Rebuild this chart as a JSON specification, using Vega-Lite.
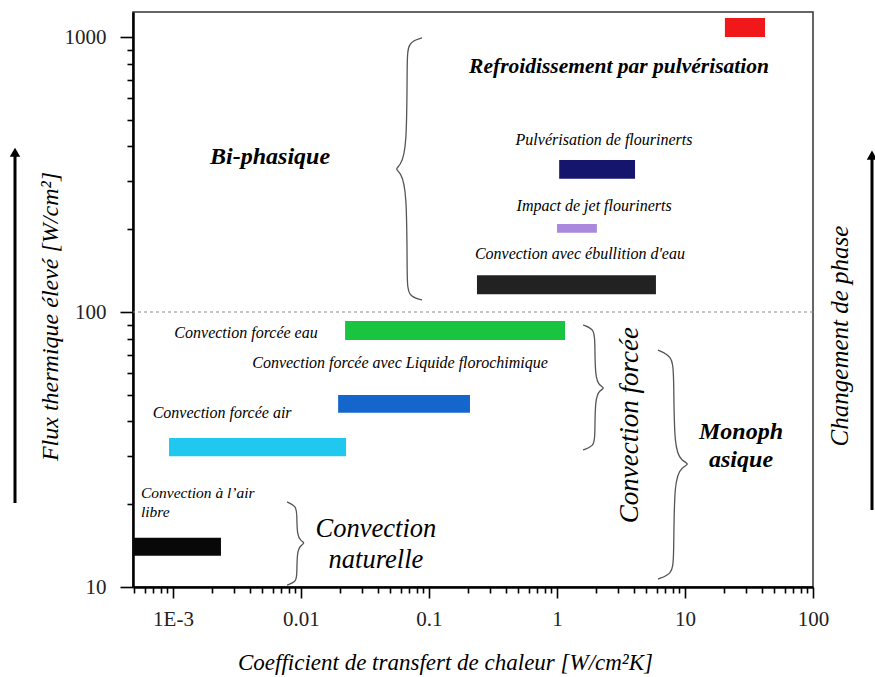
{
  "$schema": "https://vega.github.io/schema/vega-lite/v6.json",
  "width": 680,
  "height": 575,
  "autosize": {"type": "none"},
  "padding": {"left": 133, "top": 12, "right": 62, "bottom": 90},
  "background": "white",
  "config": {
    "view": {"stroke": "#333333", "strokeWidth": 1.5}
  },
  "layer": [
    {
      "data": {"values": [
        {"name": "Refroidissement par pulvérisation", "x1": 20.5, "x2": 42.2, "y1": 1000, "y2": 1173},
        {"name": "Pulvérisation de flourinerts", "x1": 1.04, "x2": 4.07, "y1": 305, "y2": 357},
        {"name": "Impact de jet flourinerts", "x1": 1.0, "x2": 2.05, "y1": 194, "y2": 209},
        {"name": "Convection avec ébullition d'eau", "x1": 0.237, "x2": 5.93, "y1": 116, "y2": 136},
        {"name": "Convection forcée eau", "x1": 0.0221, "x2": 1.155, "y1": 79.1, "y2": 92.7},
        {"name": "Convection forcée avec Liquide florochimique", "x1": 0.0195, "x2": 0.209, "y1": 43.0, "y2": 49.9},
        {"name": "Convection forcée air", "x1": 0.000931, "x2": 0.0225, "y1": 29.9, "y2": 34.8},
        {"name": "Convection à l'air libre", "x1": 0.000487, "x2": 0.00237, "y1": 13.0, "y2": 15.1}
      ]},
      "mark": {"type": "rect"},
      "encoding": {
        "x": {"field": "x1", "type": "quantitative",
          "scale": {"type": "log", "domain": [0.000487, 100], "nice": false, "zero": false},
          "axis": {
            "title": "Coefficient de transfert de chaleur [W/cm²K]",
            "titleFont": "Liberation Serif", "titleFontStyle": "italic", "titleFontWeight": "normal", "titleFontSize": 23, "titleColor": "black", "titlePadding": 22, "titleX": 312,
            "values": [0.0005,0.0006,0.0007,0.0008,0.0009,0.001,0.002,0.003,0.004,0.005,0.006,0.007,0.008,0.009,0.01,0.02,0.03,0.04,0.05,0.06,0.07,0.08,0.09,0.1,0.2,0.3,0.4,0.5,0.6,0.7,0.8,0.9,1,2,3,4,5,6,7,8,9,10,20,30,40,50,60,70,80,90,100],
            "labelExpr": "datum.value == 0.001 ? '1E-3' : datum.value == 0.01 ? '0.01' : datum.value == 0.1 ? '0.1' : datum.value == 1 ? '1' : datum.value == 10 ? '10' : datum.value == 100 ? '100' : ''",
            "labelFont": "Liberation Serif", "labelFontSize": 21, "labelColor": "#222222", "labelPadding": 10, "labelOverlap": false, "labelBound": false, "labelFlush": false,
            "tickSize": {"condition": {"test": "indexof([0.001,0.01,0.1,1,10,100], datum.value) >= 0", "value": 11}, "value": 6},
            "tickColor": "black", "tickWidth": 1.6,
            "domainColor": "black", "domainWidth": 2.5, "grid": false
          }
        },
        "x2": {"field": "x2"},
        "y": {"field": "y1", "type": "quantitative",
          "scale": {"type": "log", "domain": [10, 1233], "nice": false, "zero": false},
          "axis": {
            "title": "Flux thermique élevé [W/cm²]",
            "titleFont": "Liberation Serif", "titleFontStyle": "italic", "titleFontWeight": "normal", "titleFontSize": 24, "titleColor": "black", "titlePadding": 2, "titleY": 304,
            "values": [10,20,30,40,50,60,70,80,90,100,200,300,400,500,600,700,800,900,1000],
            "labelExpr": "datum.value == 10 ? '10' : datum.value == 100 ? '100' : datum.value == 1000 ? '1000' : ''",
            "labelFont": "Liberation Serif", "labelFontSize": 21, "labelColor": "#222222", "labelPadding": 14, "labelOverlap": false, "labelBound": false, "labelFlush": false,
            "tickSize": {"condition": {"test": "indexof([10,100,1000], datum.value) >= 0", "value": 13}, "value": 6},
            "tickColor": "black", "tickWidth": 1.6,
            "domainColor": "black", "domainWidth": 2.5, "grid": false
          }
        },
        "y2": {"field": "y2"},
        "color": {"field": "name", "type": "nominal", "legend": null,
          "scale": {
            "domain": ["Refroidissement par pulvérisation", "Pulvérisation de flourinerts", "Impact de jet flourinerts", "Convection avec ébullition d'eau", "Convection forcée eau", "Convection forcée avec Liquide florochimique", "Convection forcée air", "Convection à l'air libre"],
            "range": ["#f01818", "#15156e", "#aa88dc", "#222222", "#18c440", "#1466cc", "#20c8f0", "#080808"]
          }
        }
      }
    },
    {
      "data": {"values": [{"v": 100}]},
      "mark": {"type": "rule", "color": "#8a8a8a", "strokeWidth": 1.2, "strokeDash": [3, 3]},
      "encoding": {"y": {"field": "v", "type": "quantitative"}}
    },
    {
      "data": {"values": [
        {"b": "A", "i": 0, "x": 0.0882, "y": 992},
        {"b": "A", "i": 1, "x": 0.0685, "y": 959},
        {"b": "A", "i": 2, "x": 0.0673, "y": 825},
        {"b": "A", "i": 3, "x": 0.0673, "y": 388},
        {"b": "A", "i": 4, "x": 0.0594, "y": 340},
        {"b": "A", "i": 5, "x": 0.0543, "y": 331},
        {"b": "A", "i": 6, "x": 0.0594, "y": 323},
        {"b": "A", "i": 7, "x": 0.0673, "y": 282},
        {"b": "A", "i": 8, "x": 0.0673, "y": 130.7},
        {"b": "A", "i": 9, "x": 0.0685, "y": 114.3},
        {"b": "A", "i": 10, "x": 0.0882, "y": 110.6},
        {"b": "B", "i": 0, "x": 1.597, "y": 89.7},
        {"b": "B", "i": 1, "x": 1.946, "y": 86.7},
        {"b": "B", "i": 2, "x": 1.981, "y": 79.1},
        {"b": "B", "i": 3, "x": 1.981, "y": 57.5},
        {"b": "B", "i": 4, "x": 2.167, "y": 53.8},
        {"b": "B", "i": 5, "x": 2.371, "y": 52.9},
        {"b": "B", "i": 6, "x": 2.167, "y": 52.0},
        {"b": "B", "i": 7, "x": 1.981, "y": 48.7},
        {"b": "B", "i": 8, "x": 1.981, "y": 35.1},
        {"b": "B", "i": 9, "x": 1.946, "y": 32.6},
        {"b": "B", "i": 10, "x": 1.597, "y": 31.5},
        {"b": "C", "i": 0, "x": 6.15, "y": 72.7},
        {"b": "C", "i": 1, "x": 7.91, "y": 69.2},
        {"b": "C", "i": 2, "x": 8.2, "y": 60.5},
        {"b": "C", "i": 3, "x": 8.2, "y": 31.5},
        {"b": "C", "i": 4, "x": 9.48, "y": 28.7},
        {"b": "C", "i": 5, "x": 10.94, "y": 28.0},
        {"b": "C", "i": 6, "x": 9.48, "y": 27.3},
        {"b": "C", "i": 7, "x": 8.2, "y": 24.9},
        {"b": "C", "i": 8, "x": 8.2, "y": 12.5},
        {"b": "C", "i": 9, "x": 7.91, "y": 11.15},
        {"b": "C", "i": 10, "x": 6.15, "y": 10.69},
        {"b": "D", "i": 0, "x": 0.00778, "y": 20.4},
        {"b": "D", "i": 1, "x": 0.00914, "y": 19.7},
        {"b": "D", "i": 2, "x": 0.0093, "y": 18.4},
        {"b": "D", "i": 3, "x": 0.0093, "y": 15.45},
        {"b": "D", "i": 4, "x": 0.01, "y": 14.7},
        {"b": "D", "i": 5, "x": 0.01075, "y": 14.45},
        {"b": "D", "i": 6, "x": 0.01, "y": 14.2},
        {"b": "D", "i": 7, "x": 0.0093, "y": 13.5},
        {"b": "D", "i": 8, "x": 0.0093, "y": 11.06},
        {"b": "D", "i": 9, "x": 0.00914, "y": 10.43},
        {"b": "D", "i": 10, "x": 0.00778, "y": 10.16}
      ]},
      "mark": {"type": "line", "interpolate": "basis", "color": "#555555", "strokeWidth": 1.3},
      "encoding": {
        "x": {"field": "x", "type": "quantitative"},
        "y": {"field": "y", "type": "quantitative"},
        "detail": {"field": "b"},
        "order": {"field": "i", "type": "quantitative"}
      }
    },
    {
      "data": {"values": [
        {"side": "left", "x": 0.0000583, "y1": 20.2, "y2": 381},
        {"side": "right", "x": 289, "y1": 19.05, "y2": 372}
      ]},
      "mark": {"type": "rule", "color": "black", "strokeWidth": 3, "clip": false},
      "encoding": {
        "x": {"field": "x", "type": "quantitative"},
        "y": {"field": "y1", "type": "quantitative"},
        "y2": {"field": "y2"}
      }
    },
    {
      "data": {"values": [
        {"side": "left", "x": 0.0000583, "y": 381},
        {"side": "right", "x": 289, "y": 372}
      ]},
      "mark": {"type": "point", "shape": "triangle-up", "filled": true, "color": "black", "opacity": 1, "size": 110, "clip": false},
      "encoding": {
        "x": {"field": "x", "type": "quantitative"},
        "y": {"field": "y", "type": "quantitative"}
      }
    },
    {
      "data": {"values": [
        {"t": "Pulvérisation de flourinerts", "x": 2.33, "y": 422},
        {"t": "Impact de jet flourinerts", "x": 1.95, "y": 243},
        {"t": "Convection avec ébullition d'eau", "x": 1.51, "y": 162.6},
        {"t": "Convection forcée eau", "x": 0.00372, "y": 83.8},
        {"t": "Convection forcée avec Liquide florochimique", "x": 0.0594, "y": 65.2},
        {"t": "Convection forcée air", "x": 0.00242, "y": 42.9}
      ]},
      "mark": {"type": "text", "font": "Liberation Serif", "fontStyle": "italic", "color": "black", "fontSize": 16, "align": "center", "baseline": "middle"},
      "encoding": {
        "x": {"field": "x", "type": "quantitative"},
        "y": {"field": "y", "type": "quantitative"},
        "text": {"field": "t"}
      }
    },
    {
      "data": {"values": [
        {"t": "Convection à l’air", "x": 0.000562, "y": 22.0},
        {"t": "libre", "x": 0.000562, "y": 18.7}
      ]},
      "mark": {"type": "text", "font": "Liberation Serif", "fontStyle": "italic", "color": "black", "fontSize": 15.5, "align": "left", "baseline": "middle"},
      "encoding": {
        "x": {"field": "x", "type": "quantitative"},
        "y": {"field": "y", "type": "quantitative"},
        "text": {"field": "t"}
      }
    },
    {
      "data": {"values": [
        {"t": "Refroidissement par pulvérisation", "x": 3.05, "y": 778}
      ]},
      "mark": {"type": "text", "font": "Liberation Serif", "fontStyle": "italic", "color": "black", "fontSize": 21.5, "fontWeight": "bold", "align": "center", "baseline": "middle"},
      "encoding": {
        "x": {"field": "x", "type": "quantitative"},
        "y": {"field": "y", "type": "quantitative"},
        "text": {"field": "t"}
      }
    },
    {
      "data": {"values": [
        {"t": "Bi-phasique", "x": 0.00573, "y": 366},
        {"t": "Monoph", "x": 27.4, "y": 36.6},
        {"t": "asique", "x": 27.4, "y": 29.0}
      ]},
      "mark": {"type": "text", "font": "Liberation Serif", "fontStyle": "italic", "color": "black", "fontSize": 24, "fontWeight": "bold", "align": "center", "baseline": "middle"},
      "encoding": {
        "x": {"field": "x", "type": "quantitative"},
        "y": {"field": "y", "type": "quantitative"},
        "text": {"field": "t"}
      }
    },
    {
      "data": {"values": [
        {"t": "Convection", "x": 0.0385, "y": 16.3},
        {"t": "naturelle", "x": 0.0385, "y": 12.5}
      ]},
      "mark": {"type": "text", "font": "Liberation Serif", "fontStyle": "italic", "color": "black", "fontSize": 26.5, "align": "center", "baseline": "middle"},
      "encoding": {
        "x": {"field": "x", "type": "quantitative"},
        "y": {"field": "y", "type": "quantitative"},
        "text": {"field": "t"}
      }
    },
    {
      "data": {"values": [
        {"t": "Convection forcée", "x": 3.72, "y": 38.8}
      ]},
      "mark": {"type": "text", "font": "Liberation Serif", "fontStyle": "italic", "color": "black", "fontSize": 27, "angle": 270, "align": "center", "baseline": "middle"},
      "encoding": {
        "x": {"field": "x", "type": "quantitative"},
        "y": {"field": "y", "type": "quantitative"},
        "text": {"field": "t"}
      }
    },
    {
      "data": {"values": [
        {"t": "Changement de phase", "x": 162.6, "y": 81.8}
      ]},
      "mark": {"type": "text", "font": "Liberation Serif", "fontStyle": "italic", "color": "black", "fontSize": 25, "angle": 270, "align": "center", "baseline": "middle", "clip": false},
      "encoding": {
        "x": {"field": "x", "type": "quantitative"},
        "y": {"field": "y", "type": "quantitative"},
        "text": {"field": "t"}
      }
    }
  ]
}
